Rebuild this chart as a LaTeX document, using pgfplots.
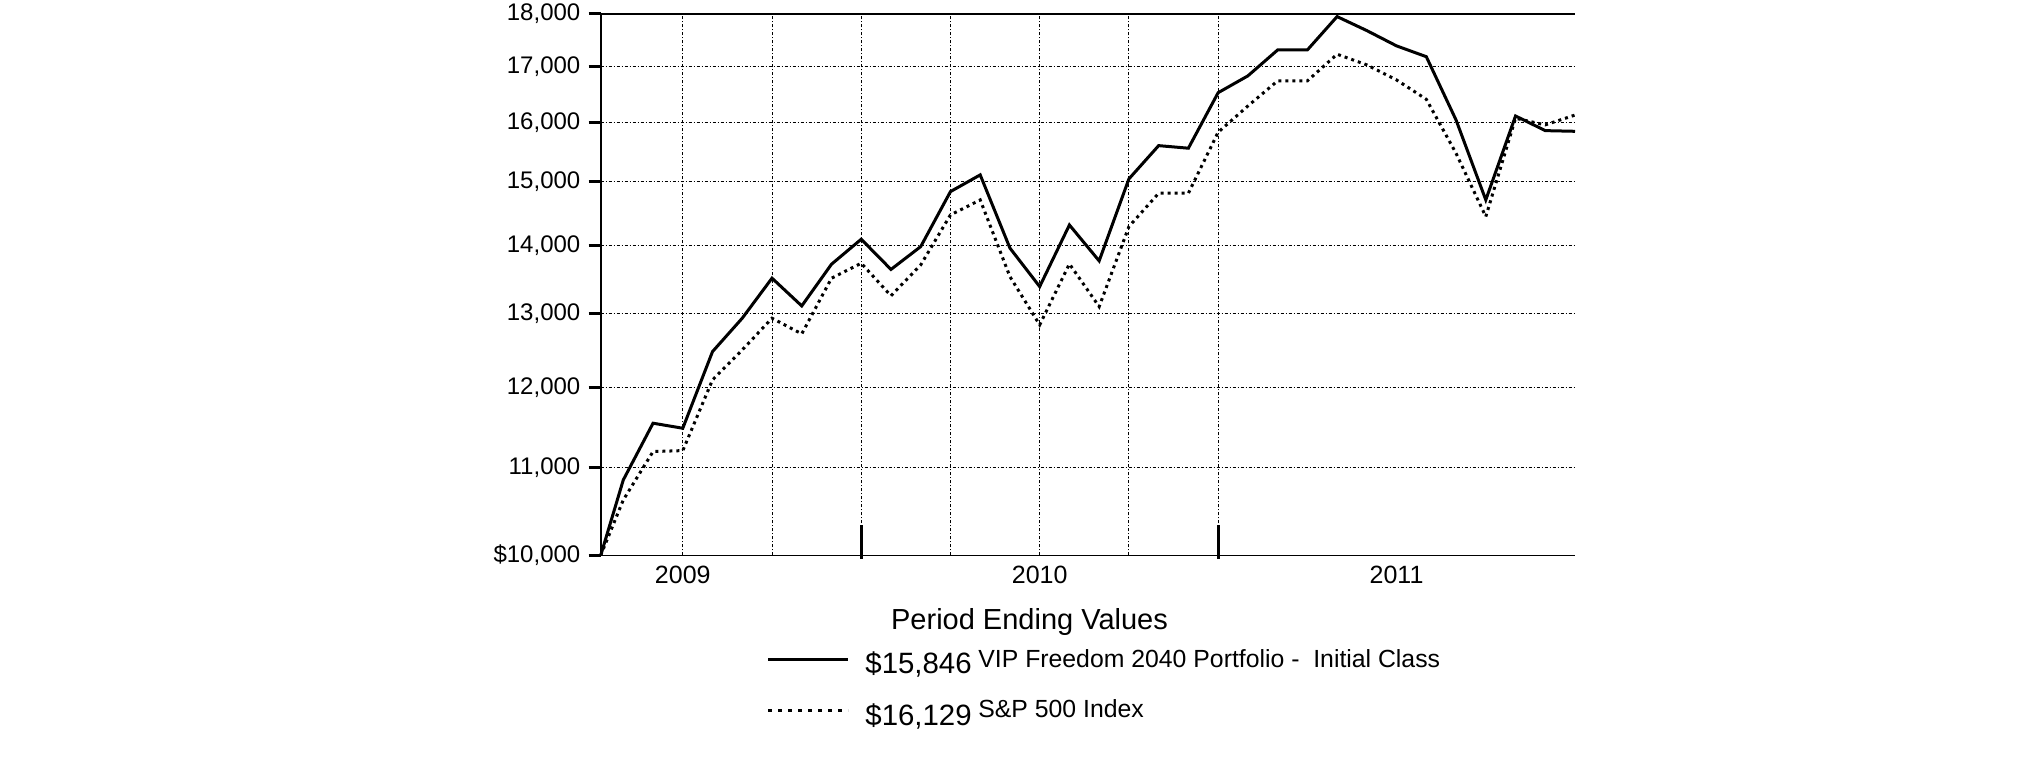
\documentclass[border=0pt]{standalone}
\usepackage{pgfplots}
\pgfplotsset{compat=1.18}
\usepackage{fontspec}
\setmainfont{Liberation Sans}

% month index: 0 = Dec 2008, fund start ~ Apr 2009
\pgfplotstableread{
m      vip     sp
3.24   10000   10000
4      10854   10621
5      11543   11193
6      11480   11205
7      12476   12099
8      12937   12499
9      13511   12936
10     13110   12718
11     13717   13510
12     14095   13732
13     13640   13255
14     13982   13707
15     14842   14471
16     15114   14709
17     13960   13534
18     13388   12843
19     14315   13722
20     13767   13100
21     15048   14289
22     15602   14816
23     15558   14816
24     16525   15830
25     16828   16288
26     17310   16737
27     17310   16737
28     17948   17229
29     17677   17030
30     17385   16755
31     17184   16408
32     16043   15473
33     14709   14445
34     16113   16072
35     15858   15957
36     15846   16129
}\perf

\begin{document}
\begin{tikzpicture}
\useasboundingbox (0pt,0pt) rectangle (1012.5pt,380.5pt);
\begin{axis}[
  at={(300.35pt,102.75pt)}, anchor=south west,
  scale only axis, width=487.15pt, height=270.75pt,
  clip=false,
  ymode=log, ymin=10000, ymax=18000,
  xmin=3.24, xmax=36,
  axis x line=box, axis y line=left,
  axis line style={-, line width=0.8pt},
  every outer y axis line/.append style={-},
  xtick={6,9,12,15,18,21,24},
  xticklabels={2009,,,,2010,,},
  extra x ticks={30}, extra x tick labels={2011},
  extra x tick style={grid=none},
  xtick pos=bottom,
  every x tick/.style={draw=none},
  xmajorgrids, ymajorgrids,
  grid style={black, line width=0.5pt, dash pattern=on 1.5pt off 1pt on 0.5pt off 1pt},
  ytick={10000,11000,12000,13000,14000,15000,16000,17000,18000},
  yticklabels={{\$10,000},{11,000},{12,000},{13,000},{14,000},{15,000},{16,000},{17,000},{18,000}},
  yminorticks=false,
  ytick pos=left,
  ytick align=outside, major tick length=6pt,
  every y tick/.style={black, solid, line width=1.4pt},
  yticklabel style={font=\fontsize{12}{12}\selectfont, inner sep=0pt, xshift=-4pt},
  xticklabel style={font=\fontsize{12.5}{12.5}\selectfont, inner sep=0pt, yshift=-5pt},
]
\addplot[black, line width=1.5pt] table[x=m, y=vip] {\perf};
\addplot[black, line width=1.5pt, dash pattern=on 1.5pt off 2pt] table[x=m, y=sp] {\perf};
\draw[black, line width=1.5pt] ([yshift=-1.75pt]axis cs:12,10000) -- ([yshift=15pt]axis cs:12,10000);
\draw[black, line width=1.5pt] ([yshift=-1.75pt]axis cs:24,10000) -- ([yshift=15pt]axis cs:24,10000);
\end{axis}
% legend block
\node[anchor=base, font=\fontsize{14.5}{14.5}\selectfont, inner sep=0pt] at (514.75pt,65.5pt) {Period Ending Values};
\draw[black, line width=1.5pt] (384pt,51pt) -- (424pt,51pt);
\node[anchor=base west, font=\fontsize{14.7}{14.7}\selectfont, inner sep=0pt] at (432.5pt,44pt) {\$15,846};
\node[anchor=base west, font=\fontsize{12.4}{12.4}\selectfont, inner sep=0pt] at (489pt,47pt) {VIP Freedom 2040 Portfolio -\ \ Initial Class};
\draw[black, line width=1.5pt, dash pattern=on 2pt off 3pt] (384pt,25.5pt) -- (424pt,25.5pt);
\node[anchor=base west, font=\fontsize{14.7}{14.7}\selectfont, inner sep=0pt] at (432.5pt,18pt) {\$16,129};
\node[anchor=base west, font=\fontsize{12.4}{12.4}\selectfont, inner sep=0pt] at (489pt,22pt) {S\&P 500 Index};
\end{tikzpicture}
\end{document}
